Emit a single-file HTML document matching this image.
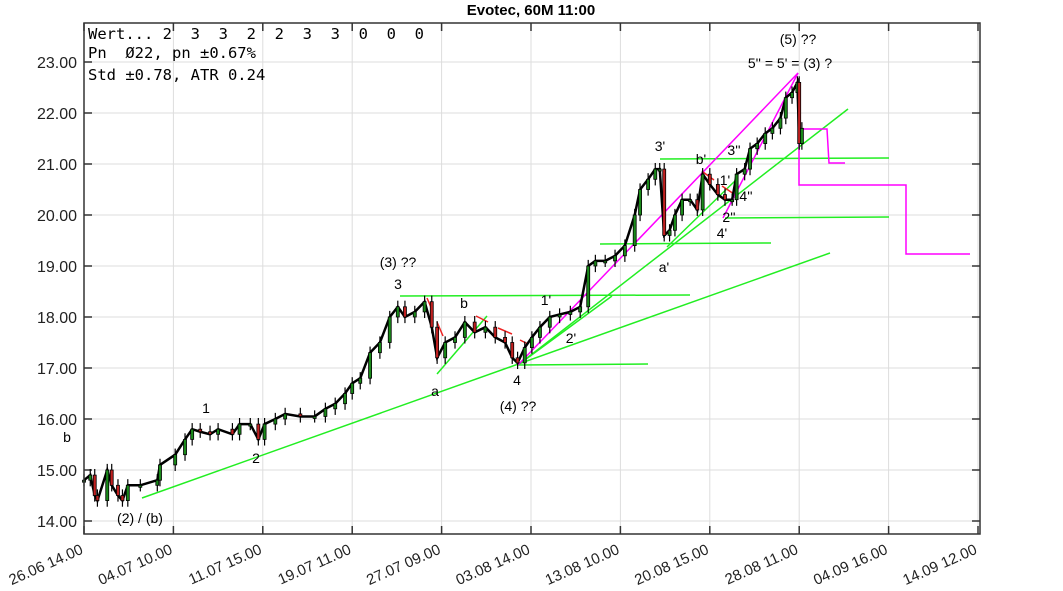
<!DOCTYPE html>
<html><head><meta charset="utf-8"><style>
body{margin:0;background:#fff;}
svg{display:block;font-family:"Liberation Sans",sans-serif;}
.mono{font-family:"DejaVu Sans Mono","Liberation Mono",monospace;font-size:15.5px;}
.lbl{font-size:14px;text-anchor:middle;fill:#000;}
</style></head><body>
<svg id="chart" width="1063" height="591" viewBox="0 0 1063 591">
<text x="531" y="15" font-size="15" font-weight="bold" text-anchor="middle">Evotec, 60M 11:00</text>
<g id="grid"></g>
<g id="yaxis"></g>
<g id="xaxis"></g>
<g id="anno" fill="none" stroke-width="1.5">
<g stroke="#22ee22">
<line x1="142" y1="498" x2="830" y2="253"/>
<line x1="400" y1="296" x2="690" y2="295"/>
<line x1="518" y1="365" x2="648" y2="364"/>
<line x1="518" y1="365" x2="848" y2="109"/>
<line x1="518" y1="365" x2="612" y2="296"/>
<line x1="437" y1="374" x2="487" y2="316"/>
<line x1="667" y1="247" x2="738" y2="178"/>
<line x1="660" y1="159" x2="889" y2="158"/>
<line x1="725" y1="218" x2="889" y2="217"/>
<line x1="600" y1="244" x2="771" y2="243"/>
</g>
<g stroke="#ff00ff">
<line x1="518" y1="365" x2="798" y2="73"/>
<line x1="723" y1="218" x2="798" y2="73"/>
<polyline points="800,129 827,129 829,163 845,163"/>
<polyline points="799,130 799,185 906,185 906,254 970,254"/>
</g>
<g stroke="#ee2222">
<line x1="427" y1="298" x2="433" y2="312"/><line x1="437" y1="322" x2="443" y2="336"/>
<line x1="476" y1="316" x2="488" y2="322"/><line x1="498" y1="328" x2="512" y2="334"/>
<line x1="520" y1="340" x2="528" y2="344"/><line x1="703" y1="172" x2="714" y2="180"/>
<line x1="722" y1="186" x2="734" y2="194"/>
</g>
</g>
<g id="candles"></g>
<g>
<text class="lbl" x="798" y="44">(5) ??</text>
<text class="lbl" x="790" y="68">5'' = 5' = (3) ?</text>
<text class="lbl" x="660" y="151">3'</text>
<text class="lbl" x="701" y="164">b'</text>
<text class="lbl" x="734" y="155">3''</text>
<text class="lbl" x="725" y="185">1'</text>
<text class="lbl" x="746" y="201">4''</text>
<text class="lbl" x="729" y="222">2''</text>
<text class="lbl" x="722" y="238">4'</text>
<text class="lbl" x="664" y="272">a'</text>
<text class="lbl" x="398" y="267">(3) ??</text>
<text class="lbl" x="398" y="289">3</text>
<text class="lbl" x="464" y="308">b</text>
<text class="lbl" x="546" y="305">1'</text>
<text class="lbl" x="571" y="343">2'</text>
<text class="lbl" x="435" y="396">a</text>
<text class="lbl" x="517" y="385">4</text>
<text class="lbl" x="518" y="411">(4) ??</text>
<text class="lbl" x="206" y="413">1</text>
<text class="lbl" x="256" y="463">2</text>
<text class="lbl" x="67" y="442">b</text>
<text class="lbl" x="140" y="523">(2) / (b)</text>
</g>
<g>
<text class="mono" x="88" y="39" xml:space="preserve">Wert... 2  3  3  2  2  3  3  0  0  0</text>
<text class="mono" x="88" y="58" xml:space="preserve">Pn  Ø22, pn ±0.67%</text>
<text class="mono" x="88" y="80">Std ±0.78, ATR 0.24</text>
</g>
<rect x="84" y="23" width="896" height="511" fill="none" stroke="#333" stroke-width="1.5"/>
</svg>
<script>
const yTicks=[14,15,16,17,18,19,20,21,22,23];
const xTickLabels=["26.06 14.00","04.07 10.00","11.07 15.00","19.07 11.00","27.07 09.00","03.08 14.00","13.08 10.00","20.08 15.00","28.08 11.00","04.09 16.00","14.09 12.00"];
const times=[0,.07,.12,.15,.26,.31,.38,.43,.49,.63,.82,.85,1.02,1.13,1.21,1.30,1.41,1.50,1.66,1.74,1.86,1.95,2.02,2.14,2.25,2.42,2.58,2.70,2.81,2.92,3.00,3.09,3.20,3.31,3.42,3.51,3.59,3.70,3.81,3.89,3.95,4.04,4.15,4.26,4.37,4.49,4.60,4.71,4.79,4.85,4.93,5.01,5.10,5.21,5.32,5.44,5.55,5.64,5.72,5.83,5.94,6.05,6.16,6.22,6.31,6.39,6.44,6.49,6.55,6.61,6.69,6.78,6.86,6.92,7.00,7.09,7.17,7.25,7.30,7.39,7.45,7.53,7.62,7.70,7.79,7.85,7.92,7.98,8.00,8.03];
const closes=[14.8,14.9,14.5,14.4,15.0,14.7,14.5,14.4,14.7,14.7,14.8,15.1,15.3,15.6,15.8,15.75,15.7,15.8,15.7,15.9,15.9,15.6,15.9,16.0,16.1,16.05,16.05,16.2,16.3,16.5,16.7,16.8,17.3,17.5,18.0,18.2,18.0,18.1,18.3,17.8,17.2,17.5,17.6,17.9,17.7,17.8,17.6,17.5,17.2,17.1,17.4,17.6,17.8,18.0,18.05,18.1,18.2,19.0,19.1,19.1,19.2,19.4,20.0,20.5,20.7,20.9,20.9,19.6,19.7,20.0,20.3,20.3,20.1,20.8,20.6,20.4,20.3,20.3,20.8,20.9,21.3,21.4,21.6,21.7,21.9,22.3,22.4,22.6,21.4,21.7];
const NS="http://www.w3.org/2000/svg";
function X(t){return 84+t*89.4;}
function Y(v){return 62+(23-v)*51;}
function mk(tag,attrs,parent){const e=document.createElementNS(NS,tag);for(const k in attrs)e.setAttribute(k,attrs[k]);parent.appendChild(e);return e;}
const grid=document.getElementById('grid'),ya=document.getElementById('yaxis'),xa=document.getElementById('xaxis'),cg=document.getElementById('candles');
yTicks.forEach(v=>{
  const l=mk('line',{x1:84,x2:980,y1:Y(v),y2:Y(v),stroke:'#ddd'},grid);
  
  
  mk('line',{x1:84,x2:92,y1:Y(v),y2:Y(v),stroke:'#333','stroke-width':1.5},ya);
  mk('line',{x1:972,x2:980,y1:Y(v),y2:Y(v),stroke:'#333','stroke-width':1.5},ya);
  const t=mk('text',{x:77,y:Y(v)+6,'text-anchor':'end','font-size':16,fill:'#222'},ya);
  t.textContent=v.toFixed(2);
  
  
});
xTickLabels.forEach((s,i)=>{
  const x=X(i);
  const l=mk('line',{x1:x,x2:x,y1:23,y2:534,stroke:'#ddd'},grid);
  
  
  mk('line',{x1:x,x2:x,y1:23,y2:31,stroke:'#333','stroke-width':1.5},xa);
  mk('line',{x1:x,x2:x,y1:526,y2:534,stroke:'#333','stroke-width':1.5},xa);
  const t=mk('text',{x:x,y:553,'text-anchor':'end','font-size':15,fill:'#222',transform:'rotate(-24 '+x+' 553)'},xa);
  t.textContent=s;
  
  
});
let pts=times.map((t,i)=>X(t)+','+Y(closes[i])).join(' ');
const pl=mk('polyline',{points:pts,fill:'none',stroke:'#000','stroke-width':2.5},cg);


closes.forEach((c,i)=>{
  const o=i?closes[i-1]:c, x=X(times[i]);
  const hi=Math.max(o,c)+0.12, lo=Math.min(o,c)-0.12;
  mk('line',{x1:x,x2:x,y1:Y(hi),y2:Y(lo),stroke:'#000','stroke-width':1.2},cg);
  const top=Y(Math.max(o,c)), h=Math.max(2,Math.abs(Y(o)-Y(c)));
  const r=mk('rect',{x:x-1.5,y:top,width:3,height:h,fill:c>=o?'#1a8a1a':'#c02020',stroke:'#000','stroke-width':0.8},cg);
  
  
});
</script>
</body></html>
